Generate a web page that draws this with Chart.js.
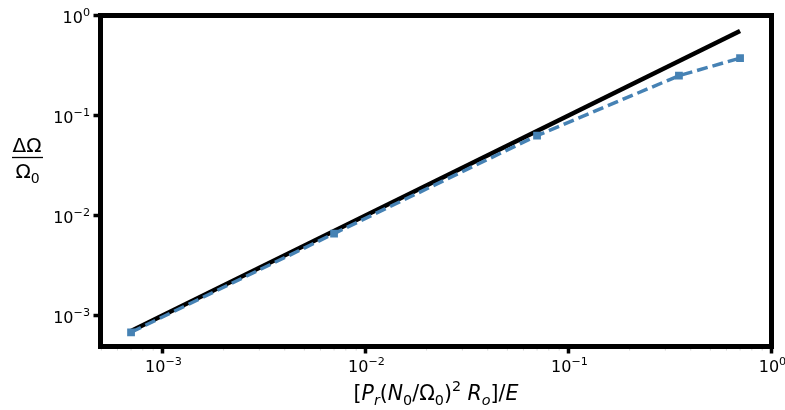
<!DOCTYPE html>
<html>
<head>
<meta charset="utf-8">
<script src="https://cdn.jsdelivr.net/npm/chart.js@4"></script>
<style>
  html, body { margin: 0; padding: 0; background: #fff; }
  #wrap { width: 785px; height: 410px; }
</style>
</head>
<body>
<div id="wrap"><canvas id="chart" width="785" height="410"></canvas></div>
<script>
// --- data ---
const simX = [7e-4, 7e-3, 7e-2, 0.35, 0.7];
const simY = [6.8e-4, 6.6e-3, 0.063, 0.25, 0.375];
const lineX = [7e-4, 0.7];
const lineY = [7e-4, 0.7];
const decadeTicks = [1e-3, 1e-2, 1e-1, 1];
const minorMult = [2, 3, 4, 5, 6, 7, 8, 9];

const FONT = '"DejaVu Sans", sans-serif';

// draws text in pieces: normal / italic / sub / sup
function drawRich(ctx, parts, cx, baseline, size) {
    const fontOf = p => (p.it ? 'italic ' : '') + (p.sub || p.sup ? size * 0.7 : size) + 'px ' + FONT;
    let total = 0;
    parts.forEach(p => { ctx.font = fontOf(p); total += ctx.measureText(p.t).width; });
    let x = cx - total / 2;
    ctx.textAlign = 'left';
    ctx.textBaseline = 'alphabetic';
    parts.forEach(p => {
        ctx.font = fontOf(p);
        const dy = p.sub ? size * 0.25 : (p.sup ? -size * 0.42 : 0);
        ctx.fillText(p.t, x, baseline + dy);
        x += ctx.measureText(p.t).width;
    });
}

// "10" with a raised exponent; align: 'center' or 'right'
function drawPow(ctx, v, x, baseline, align) {
    const e = Math.round(Math.log10(v));
    const expTxt = String(e).replace('-', '\u2212');
    ctx.font = '16px ' + FONT;
    const w1 = ctx.measureText('10').width;
    ctx.font = '11.2px ' + FONT;
    const w2 = ctx.measureText(expTxt).width;
    const left = align === 'right' ? x - w1 - w2 : x - (w1 + w2) / 2;
    ctx.textAlign = 'left';
    ctx.textBaseline = 'alphabetic';
    ctx.font = '16px ' + FONT;
    ctx.fillText('10', left, baseline);
    ctx.font = '11.2px ' + FONT;
    ctx.fillText(expTxt, left + w1, baseline - 7);
}

const framePlugin = {
    id: 'frame',
    afterDraw(chart) {
        const { ctx, chartArea: a } = chart;
        const xs = chart.scales.x, ys = chart.scales.y;
        ctx.save();
        ctx.fillStyle = '#000';
        ctx.strokeStyle = '#000';

        // faint minor ticks on x
        ctx.strokeStyle = '#c8c8c8';
        ctx.lineWidth = 0.8;
        [1e-4, 1e-3, 1e-2, 1e-1].forEach(d => minorMult.forEach(m => {
            const v = d * m;
            if (v < xs.min || v > xs.max) return;
            const px = xs.getPixelForValue(v);
            ctx.beginPath();
            ctx.moveTo(px, a.bottom);
            ctx.lineTo(px, a.bottom + 4);
            ctx.stroke();
        }));

        // major ticks + labels
        ctx.strokeStyle = '#000';
        ctx.lineWidth = 3.5;
        decadeTicks.forEach(v => {
            const px = xs.getPixelForValue(v);
            ctx.beginPath();
            ctx.moveTo(px, a.bottom);
            ctx.lineTo(px, a.bottom + 7);
            ctx.stroke();
            drawPow(ctx, v, px + 1, 372, 'center');

            const py = ys.getPixelForValue(v);
            ctx.beginPath();
            ctx.moveTo(a.left - 7, py);
            ctx.lineTo(a.left, py);
            ctx.stroke();
            drawPow(ctx, v, 90, py + 7, 'right');
        });

        // frame
        ctx.lineWidth = 5;
        ctx.strokeRect(a.left, a.top, a.right - a.left, a.bottom - a.top);

        // x axis title
        drawRich(ctx, [
            { t: '[' }, { t: 'P', it: true }, { t: 'r', it: true, sub: true }, { t: '(' },
            { t: 'N', it: true }, { t: '0', sub: true }, { t: '/\u03A9' }, { t: '0', sub: true },
            { t: ')' }, { t: '2', sup: true }, { t: ' ' }, { t: 'R', it: true }, { t: 'o', it: true, sub: true },
            { t: ']/' }, { t: 'E', it: true }
        ], (a.left + a.right) / 2, 400, 20.5);

        // y axis title as a fraction
        ctx.font = '20px ' + FONT;
        ctx.textAlign = 'center';
        ctx.textBaseline = 'alphabetic';
        ctx.fillText('\u0394\u03A9', 27, 152);
        ctx.lineWidth = 1.3;
        ctx.beginPath();
        ctx.moveTo(12, 157.5);
        ctx.lineTo(43, 157.5);
        ctx.stroke();
        drawRich(ctx, [{ t: '\u03A9' }, { t: '0', sub: true }], 27.5, 178, 20);
        ctx.restore();
    }
};

const ctx = document.getElementById('chart').getContext('2d');
new Chart(ctx, {
    type: 'line',
    data: {
        datasets: [
            {
                label: 'simulation',
                data: simX.map((x, i) => ({ x: x, y: simY[i] })),
                borderColor: '#4682B4',
                backgroundColor: '#4682B4',
                borderWidth: 3.5,
                borderDash: [11, 5],
                pointStyle: 'rect',
                pointRadius: 5.5,
                pointBorderWidth: 0,
                fill: false,
                tension: 0,
                order: 1
            },
            {
                label: 'linear',
                data: lineX.map((x, i) => ({ x: x, y: lineY[i] })),
                borderColor: '#000',
                borderWidth: 4.5,
                pointRadius: 0,
                fill: false,
                tension: 0,
                order: 2
            }
        ]
    },
    options: {
        responsive: false,
        animation: false,
        layout: { padding: { top: 15.5, right: 13.5, left: 0, bottom: 0 } },
        plugins: { legend: { display: false }, tooltip: { enabled: false } },
        scales: {
            x: {
                type: 'logarithmic',
                min: 4.95e-4,
                max: 1,
                afterBuildTicks: s => { s.ticks = decadeTicks.map(v => ({ value: v })); },
                afterFit: s => { s.height = 63.5; },
                border: { display: false },
                grid: { display: false },
                ticks: { display: false }
            },
            y: {
                type: 'logarithmic',
                min: 4.9e-4,
                max: 1,
                afterBuildTicks: s => { s.ticks = decadeTicks.map(v => ({ value: v })); },
                afterFit: s => { s.width = 100.5; },
                border: { display: false },
                grid: { display: false },
                ticks: { display: false }
            }
        }
    },
    plugins: [framePlugin]
});
</script>
</body>
</html>
